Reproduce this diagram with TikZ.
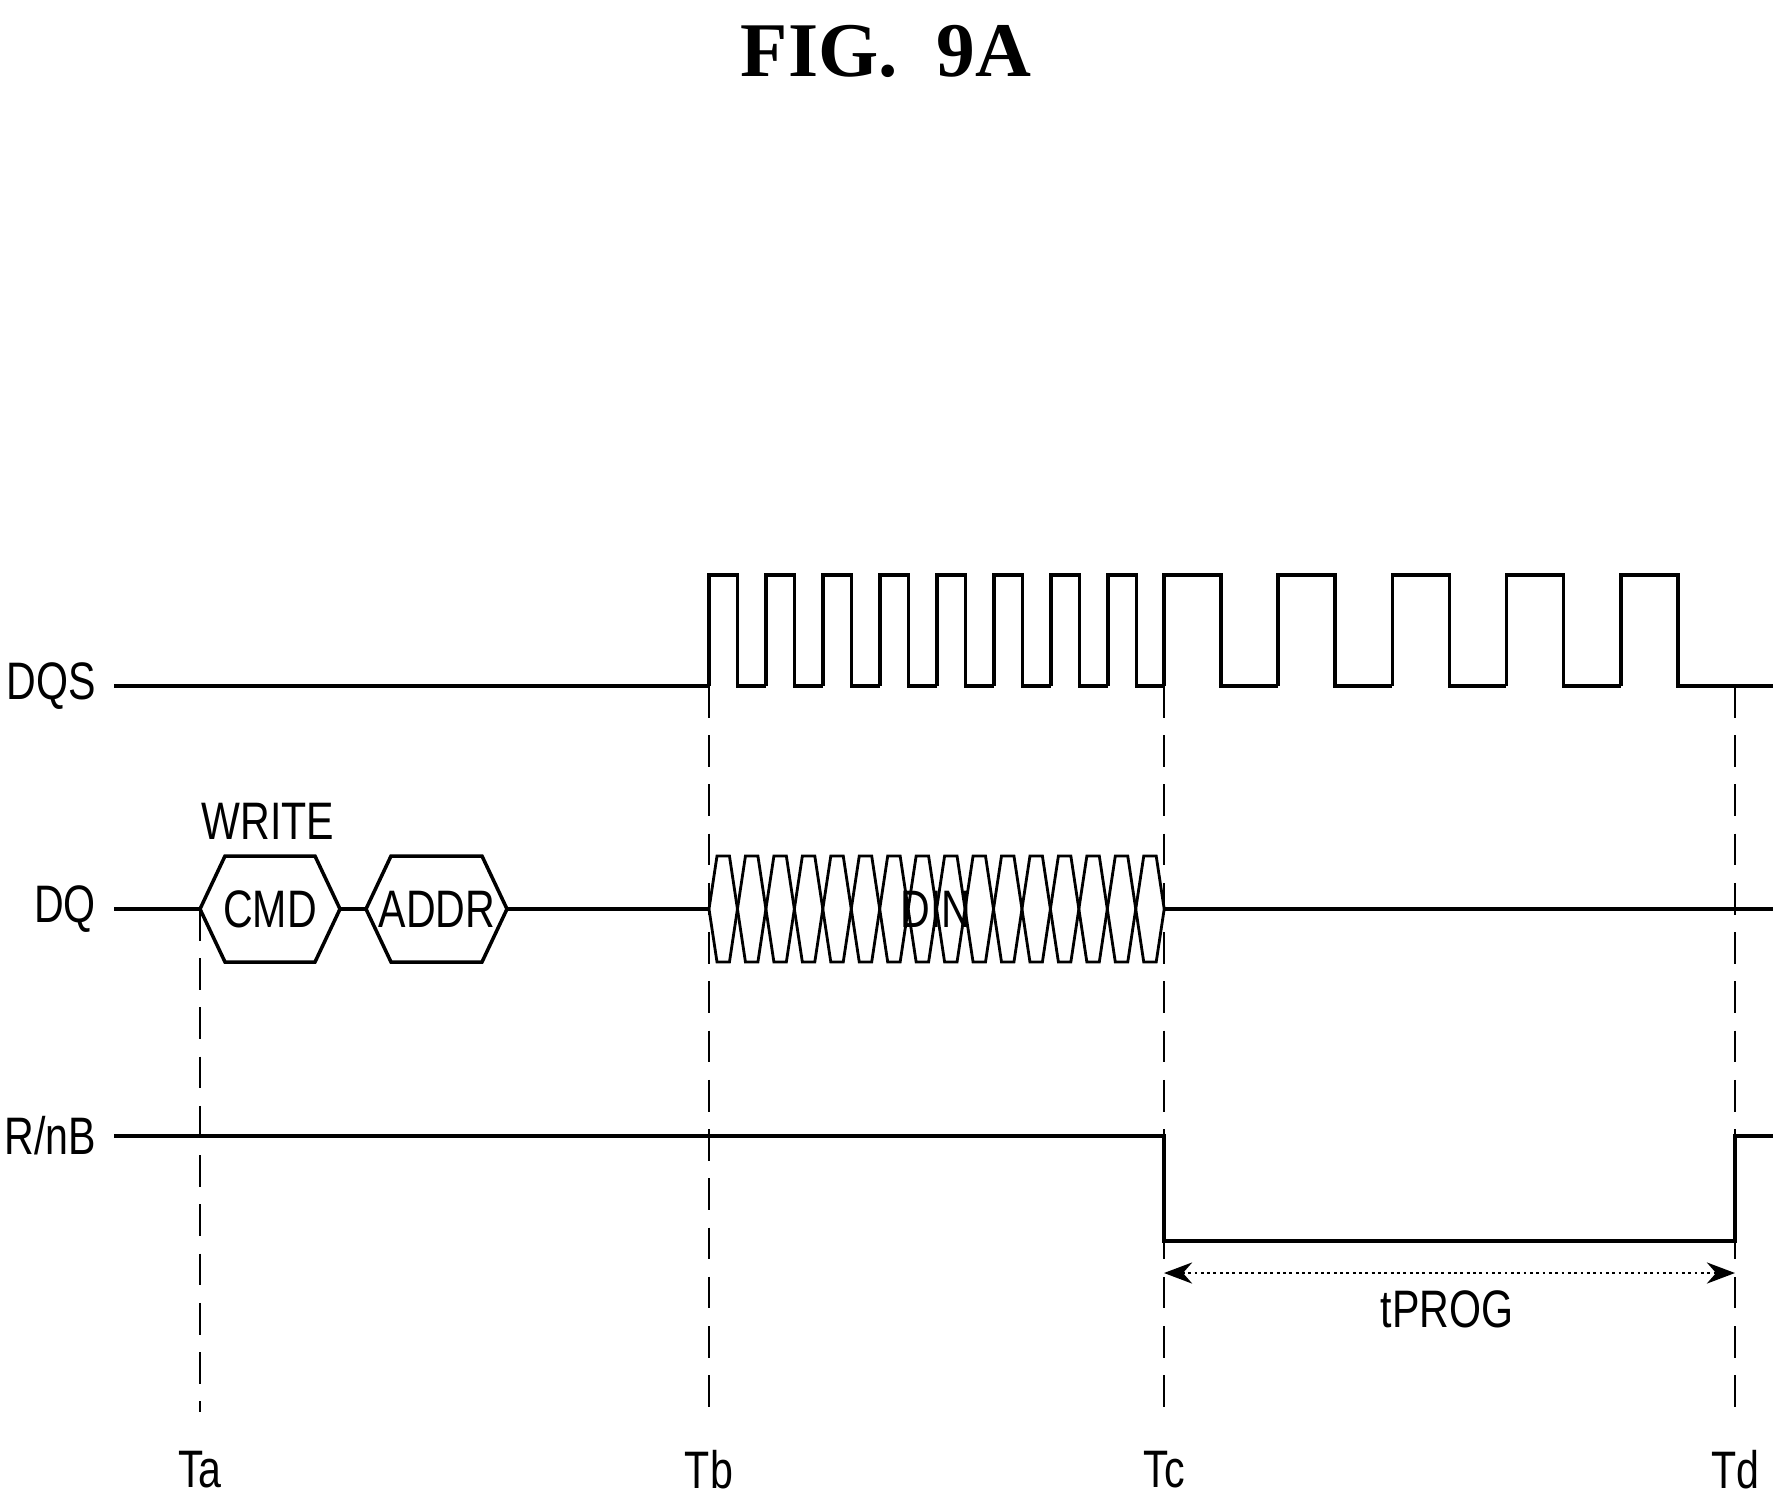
\documentclass[tikz,border=0pt]{standalone}
\usepackage{fontspec}
\setmainfont{Liberation Sans}
\newfontfamily\narrowfont[FakeStretch=0.78]{Liberation Sans}
\newfontfamily\titlefont{Liberation Serif}
\usetikzlibrary{arrows.meta}
\tikzset{
  sig/.style={line width=1pt},
  guide/.style={line width=0.8pt, dash pattern=on 9pt off 5pt},
  lbl/.style={font=\narrowfont\fontsize{15}{15}\selectfont, inner sep=1pt},
}
\begin{document}
\begin{tikzpicture}[x=0.01cm, y=-0.01cm]
  \useasboundingbox (0,0) rectangle (1784,1499);
  \node[font=\titlefont\bfseries\fontsize{22}{22}\selectfont] (title) at (886,51) {FIG.\ \ 9A};
  %signal names
  \node[lbl, anchor=east] (dqs) at (100,686) {DQS};
  \node[lbl, anchor=east] (dq) at (100,909) {DQ};
  \node[lbl, anchor=east] (rnb) at (100,1136) {R/nB};
  %time marks
  \foreach \t/\x in {a/200,b/709,c/1164,d/1735}
      \node[lbl] (T\t) at (\x,1470) {T\t};
  \coordinate (ta top) at (200,909);
  \foreach \t in {b,c,d}
      \coordinate (t\t top) at (T\t |- 0,686);
  \draw[guide] (ta top) -- ([yshift=0.35cm]Ta.north);
  \foreach \t in {b,c,d}
      \draw[guide] (t\t top) -- ([yshift=0.35cm]T\t.north);
  %DQS
  \draw[sig] (114,686) -- (709,686);
  \foreach \i in {0,...,7}
      \draw[sig] ({709+57*\i},686) -- ++(0,-111) -- ++(28.5,0) -- ++(0,111) -- ++(28.5,0);
  \foreach \i in {0,...,4}
      \draw[sig] ({1164+114.2*\i},686) -- ++(0,-111) -- ++(57,0) -- ++(0,111) -- ++(57,0);
  \draw[sig] (1735,686) -- (1773,686);
  %DQ
  \draw[sig] (114,909) -- (200,909);
  \draw[sig] (200,909) -- (225,856) -- (315,856) -- (340,909) -- (315,962) -- (225,962) -- cycle;
  \draw[sig] (340,909) -- (366,909);
  \draw[sig] (366,909) -- (391,856) -- (482,856) -- (507,909) -- (482,962) -- (391,962) -- cycle;
  \draw[sig] (507,909) -- (709,909);
  \node[lbl] (cmd) at (270,909) {CMD};
  \node[lbl] (addr) at (437,909) {ADDR};
  \node[lbl] (write) at (268,821) {WRITE};
  \foreach \i in {0,...,15}
      \draw[line width=0.8pt] ({709+28.45*\i},909) -- ++(8,-53) -- ++(12.45,0) -- ++(8,53)
          -- ++(-8,53) -- ++(-12.45,0) -- cycle;
  \node[lbl] (din) at (936,909) {DIN};
  \draw[sig] (1164,909) -- (1773,909);
  %R/nB
  \draw[sig] (114,1136) -- (1164,1136) -- (1164,1241) -- (1735,1241) -- (1735,1136) -- (1773,1136);
  %tPROG
  \draw[densely dotted, line width=0.8pt, {Stealth[length=8pt]}-{Stealth[length=8pt]}]
      (1164,1273) -- (1735,1273);
  \node[lbl] (tprog) at (1447,1309) {tPROG};
\end{tikzpicture}
\end{document}
